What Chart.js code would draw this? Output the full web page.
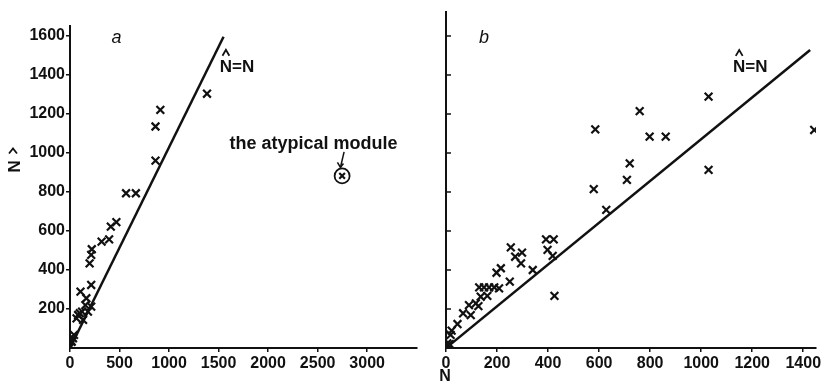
<!DOCTYPE html>
<html>
<head>
<meta charset="utf-8">
<script src="https://cdn.jsdelivr.net/npm/chart.js@4"></script>
<style>
body{margin:0;background:#fff;}
#wrap{position:relative;width:824px;height:391px;}
canvas{position:absolute;top:0;}
</style>
</head>
<body>
<div id="wrap">
<canvas id="chartA" width="426" height="391" style="left:0"></canvas>
<canvas id="chartB" width="398" height="391" style="left:426px"></canvas>
</div>
<script>
// panel a: true count N vs estimate N-hat
const aN    = [7, 17, 30, 40, 66, 82, 99, 122, 132, 155, 165, 181, 106, 214, 214, 198, 214, 220, 319, 395, 412, 468, 566, 665, 863, 863, 912, 1383];
const aNhat = [7, 32, 50, 67, 152, 169, 178, 186, 144, 220, 255, 186, 289, 212, 323, 434, 477, 506, 545, 557, 622, 645, 793, 793, 960, 1135, 1220, 1303];
const atypicalN = [2747];
const atypicalNhat = [882];
const aLineN = [0, 1550];
const aLineNhat = [0, 1595];
const aTicksX = [0, 500, 1000, 1500, 2000, 2500, 3000];
const aTicksY = [200, 400, 600, 800, 1000, 1200, 1400, 1600];

// panel b
const bN    = [5, 10, 14, 18, 22, 45, 67, 90, 97, 117, 127, 130, 136, 149, 162, 169, 189, 198, 208, 215, 250, 254, 271, 294, 298, 340, 392, 398, 418, 422, 425, 579, 585, 628, 709, 720, 759, 798, 861, 1029, 1029, 1443];
const bNhat = [24, 15, 20, 67, 89, 123, 178, 220, 169, 229, 215, 311, 263, 311, 267, 311, 311, 386, 306, 409, 340, 516, 468, 434, 489, 400, 557, 503, 472, 557, 267, 815, 1121, 708, 862, 947, 1215, 1084, 1084, 1289, 913, 1118];
const bLineN = [0, 1427];
const bLineNhat = [0, 1528];
const bTicksX = [0, 200, 400, 600, 800, 1000, 1200, 1400];
const bTicksY = [200, 400, 600, 800, 1000, 1200, 1400, 1600];

const INK = '#111';
Chart.defaults.font.family = '"Liberation Sans", Arial, sans-serif';
Chart.defaults.font.size = 16;
Chart.defaults.font.weight = 'bold';
Chart.defaults.color = INK;

function pts(xs, ys) { return xs.map((v, i) => ({x: v, y: ys[i]})); }
function keep(list) { return s => { s.ticks = list.map(v => ({value: v})); }; }
const plain = v => String(v);

function drawHatN(ctx, x, y, size) {
  ctx.font = 'bold ' + size + 'px "Liberation Sans"';
  ctx.textAlign = 'left';
  ctx.textBaseline = 'alphabetic';
  ctx.fillText('N=N', x, y);
  const w = ctx.measureText('N').width;
  ctx.beginPath();
  ctx.lineWidth = 1.8;
  ctx.moveTo(x + w * 0.22, y - size * 0.95);
  ctx.lineTo(x + w * 0.5, y - size * 1.3);
  ctx.lineTo(x + w * 0.78, y - size * 0.95);
  ctx.stroke();
}

const annotateA = {
  id: 'annotateA',
  afterDatasetsDraw(chart) {
    const {ctx, scales: {x, y}} = chart;
    ctx.save();
    ctx.fillStyle = INK; ctx.strokeStyle = INK;
    ctx.font = 'italic 18px "Liberation Sans"';
    ctx.textAlign = 'center'; ctx.textBaseline = 'middle';
    ctx.fillText('a', x.getPixelForValue(470), y.getPixelForValue(1590));
    drawHatN(ctx, x.getPixelForValue(1512), y.getPixelForValue(1415), 17);
    ctx.font = 'bold 18px "Liberation Sans"';
    ctx.textAlign = 'left'; ctx.textBaseline = 'middle';
    ctx.fillText('the atypical module', x.getPixelForValue(1611), y.getPixelForValue(1046));
    // arrow to the circled point
    const x0 = x.getPixelForValue(2767), y0 = y.getPixelForValue(1005);
    const x1 = x.getPixelForValue(2730), y1 = y.getPixelForValue(925);
    ctx.lineWidth = 1.5;
    ctx.beginPath(); ctx.moveTo(x0, y0); ctx.lineTo(x1, y1); ctx.stroke();
    ctx.beginPath(); ctx.moveTo(x1 - 3, y1 - 5); ctx.lineTo(x1, y1); ctx.lineTo(x1 + 3, y1 - 4); ctx.stroke();
    // y title: upright hat over a turned N
    const ty = y.getPixelForValue(930);
    ctx.font = 'bold 17px "Liberation Sans"';
    ctx.save();
    ctx.translate(13, ty);
    ctx.rotate(Math.PI / 2);
    ctx.textAlign = 'center'; ctx.textBaseline = 'middle';
    ctx.fillText('N', 0, 0);
    ctx.restore();
    ctx.lineWidth = 1.8;
    ctx.beginPath();
    ctx.moveTo(9, ty - 13); ctx.lineTo(13, ty - 18); ctx.lineTo(17, ty - 13);
    ctx.stroke();
    ctx.restore();
  }
};

const annotateB = {
  id: 'annotateB',
  afterDatasetsDraw(chart) {
    const {ctx, scales: {x, y}} = chart;
    ctx.save();
    ctx.fillStyle = INK; ctx.strokeStyle = INK;
    ctx.font = 'italic 18px "Liberation Sans"';
    ctx.textAlign = 'center'; ctx.textBaseline = 'middle';
    ctx.fillText('b', x.getPixelForValue(149), y.getPixelForValue(1590));
    drawHatN(ctx, x.getPixelForValue(1125), y.getPixelForValue(1415), 17);
    // inward tick marks on the y axis
    ctx.lineWidth = 1.5;
    bTicksY.forEach(v => {
      const py = y.getPixelForValue(v);
      ctx.beginPath(); ctx.moveTo(x.left, py); ctx.lineTo(x.left + 5, py); ctx.stroke();
    });
    ctx.font = 'bold 16px "Liberation Sans"';
    ctx.textAlign = 'center'; ctx.textBaseline = 'middle';
    ctx.fillText('N', x.left - 1, 377);
    ctx.restore();
  }
};

const crossStyle = {
  showLine: false, pointStyle: 'crossRot', pointRadius: 5.5,
  borderColor: INK, backgroundColor: INK, pointBorderWidth: 2.2
};
const lineStyle = {
  showLine: true, pointRadius: 0, borderColor: INK, borderWidth: 2.5
};
const axisBase = {
  type: 'linear', min: 0,
  border: {color: INK, width: 2},
  grid: {drawOnChartArea: false, drawTicks: true, tickLength: 4, color: INK, lineWidth: 1.5}
};

new Chart(document.getElementById('chartA'), {
  type: 'scatter',
  data: {
    datasets: [
      Object.assign({data: pts(aN, aNhat)}, crossStyle),
      Object.assign({data: pts(atypicalN, atypicalNhat)}, crossStyle, {pointRadius: 4}),
      {data: pts(atypicalN, atypicalNhat), showLine: false, pointStyle: 'circle', pointRadius: 7.5,
       borderColor: INK, backgroundColor: 'rgba(0,0,0,0)', pointBorderWidth: 1.8},
      Object.assign({data: pts(aLineN, aLineNhat)}, lineStyle)
    ]
  },
  options: {
    responsive: false, animation: false,
    layout: {padding: {top: 26, right: 2, left: 0, bottom: 0}},
    plugins: {legend: {display: false}, tooltip: {enabled: false}},
    scales: {
      x: Object.assign({}, axisBase, {
        max: 3500,
        afterBuildTicks: keep(aTicksX),
        afterFit(s) { s.height = 43; },
        ticks: {padding: 2, maxRotation: 0, callback: plain}
      }),
      y: Object.assign({}, axisBase, {
        max: 1650,
        afterBuildTicks: keep(aTicksY),
        afterFit(s) { s.width = 70; },
        ticks: {padding: 1, callback: plain}
      })
    }
  },
  plugins: [annotateA]
});

new Chart(document.getElementById('chartB'), {
  type: 'scatter',
  data: {
    datasets: [
      Object.assign({data: pts(bN, bNhat)}, crossStyle),
      Object.assign({data: pts(bLineN, bLineNhat)}, lineStyle)
    ]
  },
  options: {
    responsive: false, animation: false,
    layout: {padding: {top: 12, right: 8, left: 0, bottom: 0}},
    plugins: {legend: {display: false}, tooltip: {enabled: false}},
    scales: {
      x: Object.assign({}, axisBase, {
        max: 1450,
        afterBuildTicks: keep(bTicksX),
        afterFit(s) { s.height = 43; },
        ticks: {padding: 2, maxRotation: 0, callback: plain}
      }),
      y: Object.assign({}, axisBase, {
        max: 1723,
        grid: {display: false},
        afterBuildTicks: keep(bTicksY),
        afterFit(s) { s.width = 20; },
        ticks: {display: false}
      })
    }
  },
  plugins: [annotateB]
});
</script>
</body>
</html>
